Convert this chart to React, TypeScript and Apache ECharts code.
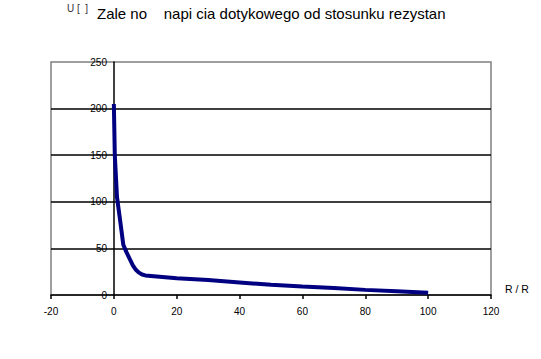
import React, { useEffect, useRef } from "react";
import * as echarts from "echarts";

const ratio = [0, 0.3, 1, 2, 3, 4, 5, 6, 7, 8, 9, 10, 20, 30, 40, 50, 60, 70, 80, 90, 100];
const voltage = [205, 150, 105, 80, 54, 46, 39, 32, 27, 24, 22, 21, 18, 16, 13.5, 11, 9, 7.5, 5.5, 4, 2.5];
const titleText = "Zale no    napi cia dotykowego od stosunku rezystan";
const yName = "U [  ]";
const xName = "R / R";

export default function App() {
  const ref = useRef<HTMLDivElement>(null);
  useEffect(() => {
    if (!ref.current) return;
    const chart = echarts.init(ref.current, null, { renderer: "svg" });
    const font = "'Liberation Sans', Arial, sans-serif";
    chart.setOption({
      animation: false,
      backgroundColor: "#ffffff",
      textStyle: { fontFamily: font },
      title: {
        text: titleText,
        left: 97,
        top: 6,
        padding: 0,
        textStyle: { fontFamily: font, fontSize: 15, fontWeight: "normal", color: "#000" },
      },
      graphic: [
        {
          type: "text",
          left: 67,
          top: 3,
          style: { text: yName, fontFamily: font, fontSize: 10, fill: "#333" },
        },
      ],
      grid: { left: 51, right: 50, top: 62, bottom: 64, show: true, borderColor: "#808080", borderWidth: 1.5, backgroundColor: "#fff" },
      xAxis: {
        type: "value",
        min: -20,
        max: 120,
        interval: 20,
        name: xName,
        nameLocation: "end",
        nameGap: 14,
        nameTextStyle: { fontFamily: font, fontSize: 10.5, color: "#000", verticalAlign: "bottom", lineHeight: 13 },
        axisLine: { show: true, onZero: true, lineStyle: { color: "#000", width: 1.5 } },
        axisTick: { show: true, length: 4, lineStyle: { color: "#000", width: 1.5 } },
        axisLabel: { fontFamily: font, fontSize: 10, color: "#000", margin: 11 },
        splitLine: { show: false },
      },
      yAxis: {
        type: "value",
        min: 0,
        max: 250,
        interval: 50,
        axisLine: { show: true, onZero: true, lineStyle: { color: "#000", width: 1.5 } },
        axisTick: { show: false },
        axisLabel: { fontFamily: font, fontSize: 10, color: "#000", margin: -56 },
        splitLine: { show: true, showMinLine: false, showMaxLine: false, lineStyle: { color: "#000", width: 1.5 } },
      },
      series: [
        {
          type: "line",
          data: ratio.map((r, i) => [r, voltage[i]]),
          showSymbol: false,
          symbol: "none",
          lineStyle: { color: "#000080", width: 4 },
          z: 5,
        },
      ],
    });
    return () => chart.dispose();
  }, []);
  return <div ref={ref} style={{ position: "absolute", left: 0, top: 0, width: 541, height: 359 }} />;
}
